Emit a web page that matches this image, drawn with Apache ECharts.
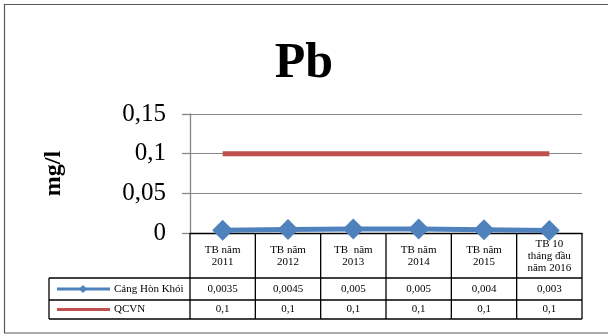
<!DOCTYPE html>
<html><head><meta charset="utf-8">
<script src="https://cdn.jsdelivr.net/npm/echarts@6/dist/echarts.min.js"></script>
<style>html,body{margin:0;padding:0;background:#fff}#c{width:608px;height:334px}</style>
</head><body><div id="c"></div>
<script>
var categories = ['TB năm\n2011','TB năm\n2012','TB  năm\n2013','TB năm\n2014','TB năm\n2015','TB 10\ntháng đầu\nnăm 2016'];
var hontKhoi = [0.0035, 0.0045, 0.005, 0.005, 0.004, 0.003];
var hontKhoiLabels = ['0,0035','0,0045','0,005','0,005','0,004','0,003'];
var qcvn = [0.1, 0.1, 0.1, 0.1, 0.1, 0.1];
var qcvnLabels = ['0,1','0,1','0,1','0,1','0,1','0,1'];
var seriesNames = ['Cảng Hòn Khói','QCVN'];
var yTicks = [0, 0.05, 0.1, 0.15];

var FONT = '"Liberation Serif", "Times New Roman", serif';
var BLUE = '#4F81BD', RED = '#C0504D';
var chart = echarts.init(document.getElementById('c'));
var option = {
  animation: false,
  backgroundColor: '#fff',
  title: {text: 'Pb', left: 'center', top: 34,
    textStyle: {fontFamily: FONT, fontWeight: 'bold', fontSize: 50, color: '#000'}},
  grid: {left: 190, right: 26, top: 114, height: 119},
  xAxis: {type: 'category', data: categories, boundaryGap: true,
    axisLine: {show: true, lineStyle: {color: '#000', width: 1.3}},
    axisTick: {show: false}, axisLabel: {show: false}, splitLine: {show: false}},
  yAxis: {type: 'value', min: 0, max: 0.15, interval: 0.05,
    name: 'mg/l', nameLocation: 'middle', nameRotate: 90, nameGap: 124,
    nameTextStyle: {fontFamily: FONT, fontWeight: 'bold', fontSize: 24, color: '#000'},
    axisLine: {show: true, lineStyle: {color: '#868686', width: 1.3}},
    axisTick: {show: true, length: 8, lineStyle: {color: '#868686', width: 1.3}},
    axisLabel: {margin: 24, fontFamily: FONT, fontSize: 25, color: '#000',
      formatter: function (v) { return String(+v.toFixed(2)).replace('.', ','); }},
    splitLine: {show: true, lineStyle: {color: '#868686', width: 1}}},
  series: [
    {name: seriesNames[0], type: 'line', data: hontKhoi, symbol: 'diamond', symbolSize: 21,
      lineStyle: {color: BLUE, width: 5}, itemStyle: {color: BLUE}, z: 5},
    {name: seriesNames[1], type: 'line', data: qcvn, symbol: 'none',
      lineStyle: {color: RED, width: 5}, itemStyle: {color: RED}, z: 4}
  ]
};
chart.setOption(option);

// Build the data table below the plot from the axis scale
var yTop = 233, yHead = 278, yRow1 = 300, yRow2 = 319, xLeg = 49;
var centers = categories.map(function (c, i) { return chart.convertToPixel({xAxisIndex: 0}, i); });
var bw = centers.length > 1 ? centers[1] - centers[0] : 65;
var xStart = centers[0] - bw / 2, xEnd = centers[centers.length - 1] + bw / 2;
var LS = {stroke: '#000', lineWidth: 1.3};
var els = [];
function line(x1, y1, x2, y2, st, z) { els.push({type: 'line', shape: {x1: x1, y1: y1, x2: x2, y2: y2}, style: st, z: z || 1, silent: true}); }
function text(x, y, s, align, size, lh) {
  els.push({type: 'text', x: x, y: y, style: {text: s, font: (size || 11) + 'px ' + FONT, fill: '#000',
    align: align || 'center', verticalAlign: 'middle', lineHeight: lh || 12}, z: 1});
}
// outer frame
els.push({type: 'rect', shape: {x: 4.5, y: 4.5, width: 620, height: 328.5}, style: {fill: null, stroke: '#595959', lineWidth: 1.2}, z: 0});
line(xLeg, yHead, xEnd, yHead, LS);
line(xLeg, yRow1, xEnd, yRow1, LS);
line(xLeg, yRow2, xEnd, yRow2, LS);
line(xLeg, yHead, xLeg, yRow2, LS);
for (var i = 0; i <= centers.length; i++) {
  var x = xStart + i * bw;
  line(x, yTop, x, yRow2, LS);
}
centers.forEach(function (cx, i) {
  text(cx, (yTop + yHead) / 2 + 1, categories[i], 'center', 11, 12);
  text(cx, (yHead + yRow1) / 2, hontKhoiLabels[i], 'center', 11);
  text(cx, (yRow1 + yRow2) / 2, qcvnLabels[i], 'center', 11);
});
// legend keys in table
var ly1 = (yHead + yRow1) / 2, ly2 = (yRow1 + yRow2) / 2;
line(57, ly1, 110, ly1, {stroke: BLUE, lineWidth: 3});
els.push({type: 'polygon', shape: {points: [[83, ly1 - 4], [87, ly1], [83, ly1 + 4], [79, ly1]]}, style: {fill: BLUE}, z: 2});
line(57, ly2, 110, ly2, {stroke: RED, lineWidth: 3});
text(114, ly1, seriesNames[0], 'left', 11);
text(114, ly2, seriesNames[1], 'left', 11);
chart.setOption({graphic: {elements: els}});
</script></body></html>
